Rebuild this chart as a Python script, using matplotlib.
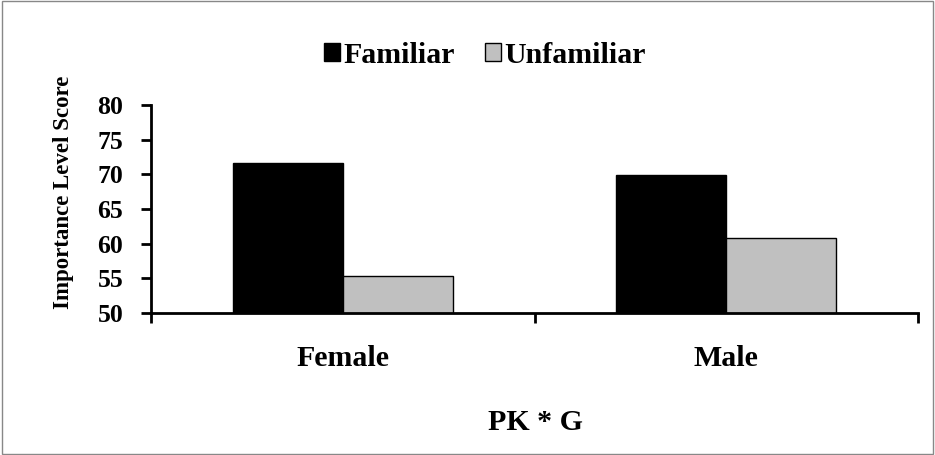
import numpy as np
import matplotlib.pyplot as plt
from matplotlib.patches import Rectangle

groups = ['Female', 'Male']
series = ['Familiar', 'Unfamiliar']
familiar = [71.7, 69.9]
unfamiliar = [55.4, 60.85]
colors = ['#000000', '#c0c0c0']
yticks = [50, 55, 60, 65, 70, 75, 80]

plt.rcParams['font.family'] = ['Liberation Serif', 'DejaVu Serif']
plt.rcParams['font.weight'] = 'bold'

W, H = 935, 455
fig = plt.figure(figsize=(W / 100, H / 100), dpi=100)
ax = fig.add_axes([151 / W, 1 - 313 / H, 767 / W, 208 / H])

x = np.arange(len(groups))
w = 0.287
ax.bar(x - w/2, familiar, w, color=colors[0], edgecolor='black', linewidth=1, label=series[0])
ax.bar(x + w/2, unfamiliar, w, color=colors[1], edgecolor='black', linewidth=1, label=series[1])

ax.set_ylim(50, 80)
ax.set_xlim(-0.5, 1.5)
ax.set_yticks(yticks)
ax.set_yticklabels([str(t) for t in yticks], fontsize=18.5, fontweight='bold')
ax.set_xticks([-0.5, 0.5, 1.5])
ax.set_xticklabels([])
for i, g in enumerate(groups):
    ax.text(i, -46 / 208, g, transform=ax.get_xaxis_transform(), ha='center', va='center',
            fontsize=21.5, fontweight='bold')
fig.text(536 / W, 1 - 423 / H, 'PK * G', ha='center', va='center',
         fontsize=21.5, fontweight='bold')
fig.text(64 / W, 1 - 192 / H, 'Importance Level Score', rotation=90, ha='center', va='center',
         fontsize=16.5, fontweight='bold')

ax.spines['top'].set_visible(False)
ax.spines['right'].set_visible(False)
ax.spines['left'].set_linewidth(2)
ax.spines['bottom'].set_linewidth(2)
ax.tick_params(axis='both', direction='out', length=7, width=2)
ax.tick_params(axis='y', pad=13)

ax.legend(loc='center', bbox_to_anchor=(0.435, 1.24), ncol=2, frameon=False, borderpad=0,
          prop={'size': 21.5, 'weight': 'bold'}, handlelength=0.55, handleheight=0.57,
          handletextpad=0.1, columnspacing=1.0)

fig.patches.append(Rectangle((0.002, 0.002), 0.996, 0.996, transform=fig.transFigure,
                             fill=False, edgecolor='#888888', linewidth=1))

fig.savefig('out.png', dpi=100)
